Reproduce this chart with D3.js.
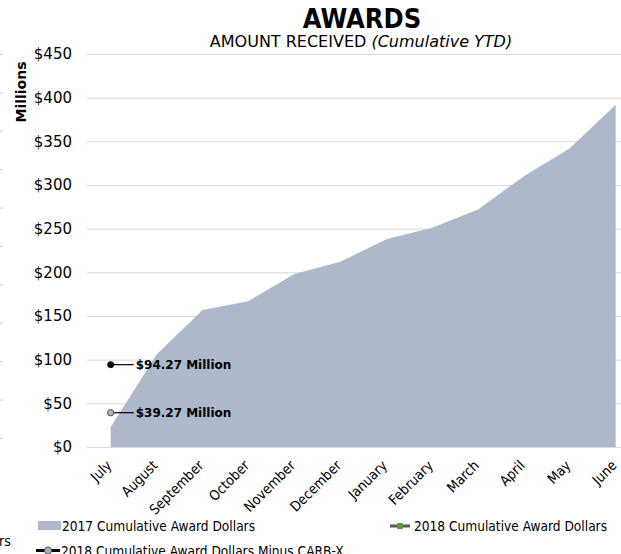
<!DOCTYPE html>
<html>
<head>
<meta charset="utf-8">
<script src="https://cdn.jsdelivr.net/npm/d3@7"></script>
<style>
  html, body { margin: 0; padding: 0; background: #fff; }
  svg { display: block; }
  text { font-family: "DejaVu Sans", Verdana, sans-serif; fill: #000; }
  .narrow { font-family: "DejaVu Sans Condensed", "DejaVu Sans", sans-serif; font-stretch: condensed; }
</style>
</head>
<body>
<svg id="chart" width="621" height="554"></svg>
<script>
// Fiscal-year months, July through June
const months = ["July", "August", "September", "October", "November", "December",
                "January", "February", "March", "April", "May", "June"];

// 2017 cumulative award dollars, millions
const award2017 = [23, 106, 157, 167, 198, 212, 238, 251, 272, 310, 342, 392];

// 2018 cumulative award dollars (only July reported so far), millions
const award2018 = [94.27];
const award2018MinusCarbx = [39.27];

// Y axis ticks, millions
const yTicks = [0, 50, 100, 150, 200, 250, 300, 350, 400, 450];

const legendItems = ["2017 Cumulative Award Dollars",
                     "2018 Cumulative Award Dollars",
                     "2018 Cumulative Award Dollars Minus CARB-X"];

const svg = d3.select("#chart");
const W = 621, H = 554;
const plot = { left: 87, right: 621, top: 54, bottom: 447 };

svg.append("rect").attr("width", W).attr("height", H).attr("fill", "#fff");

// Edge of the neighbouring panel
const edge = svg.append("g").attr("class", "edge");
edge.selectAll("line").data(d3.range(11)).join("line")
  .attr("x1", 0).attr("x2", 2.5)
  .attr("y1", d => 54.5 + d * 38.4).attr("y2", d => 54.5 + d * 38.4)
  .attr("stroke", "#c8c8c8").attr("stroke-width", 1);
edge.append("text").attr("x", -1).attr("y", 546)
  .attr("class", "narrow")
  .style("font-size", "14px").text("rs");

const x = d3.scalePoint().domain(months).range([110.7, 615.7]);
const y = d3.scaleLinear().domain([0, 450]).range([plot.bottom, plot.top]);

// Gridlines and dollar labels
const yAxis = d3.axisLeft(y)
  .tickValues(yTicks)
  .tickSize(-(plot.right - plot.left))
  .tickPadding(15)
  .tickFormat(d => "$" + d);

const gy = svg.append("g")
  .attr("transform", `translate(${plot.left},0)`)
  .call(yAxis);
gy.select(".domain").remove();
gy.selectAll(".tick line").attr("stroke", "#d9d9d9").attr("stroke-width", 1);
gy.selectAll(".tick text")
  .style("font-size", "15px")
  .style("font-family", "'DejaVu Sans', Verdana, sans-serif")
  .attr("fill", "#000");

// 2017 area
const area = d3.area()
  .x((d, i) => x(months[i]))
  .y0(y(0))
  .y1(d => y(d));
svg.append("path")
  .datum(award2017)
  .attr("d", area)
  .attr("fill", "#adb8cb");

// Month labels, rotated
const xAxis = d3.axisBottom(x).tickSize(0).tickPadding(0);
const gx = svg.append("g")
  .attr("transform", `translate(0,${plot.bottom})`)
  .call(xAxis);
gx.select(".domain").remove();
gx.selectAll(".tick text")
  .attr("y", 0).attr("dy", 0)
  .attr("class", "narrow")
  .attr("text-anchor", "end")
  .attr("dominant-baseline", "hanging")
  .attr("transform", "translate(-6,12) rotate(-45)")
  .style("font-size", "14px")
  .style("font-family", null)
  .attr("fill", "#000");

// 2018 points with value labels
function pointLabel(value, fill, stroke, r) {
  const cx = x(months[0]), cy = y(value);
  svg.append("line")
    .attr("x1", cx).attr("x2", cx + 23)
    .attr("y1", cy).attr("y2", cy)
    .attr("stroke", "#000").attr("stroke-width", 1.2);
  svg.append("circle")
    .attr("cx", cx).attr("cy", cy).attr("r", r)
    .attr("fill", fill).attr("stroke", stroke).attr("stroke-width", 1);
  svg.append("text")
    .attr("x", cx + 25).attr("y", cy + 4.5)
    .style("font-size", "12px").style("font-weight", "bold")
    .text("$" + value.toFixed(2) + " Million");
}
pointLabel(award2018[0], "#000", "#000", 3);
pointLabel(award2018MinusCarbx[0], "#a9b3c6", "#4a5468", 3.2);

// Titles
svg.append("text")
  .attr("x", 362).attr("y", 28)
  .attr("class", "narrow")
  .attr("text-anchor", "middle")
  .style("font-size", "27px").style("font-weight", "bold")
  .text("AWARDS");

const sub = svg.append("text")
  .attr("x", 361).attr("y", 47)
  .attr("text-anchor", "middle")
  .style("font-size", "16px");
sub.append("tspan").text("AMOUNT RECEIVED ");
sub.append("tspan").style("font-style", "italic").text("(Cumulative YTD)");

svg.append("text")
  .attr("transform", "translate(26,92) rotate(-90)")
  .attr("text-anchor", "middle")
  .style("font-size", "14px").style("font-weight", "bold")
  .text("Millions");

// Legend
const lg = svg.append("g").attr("class", "narrow").style("font-size", "13.6px");
lg.append("rect").attr("x", 38).attr("y", 521).attr("width", 23).attr("height", 9)
  .attr("fill", "#adb8cb");
lg.append("text").attr("x", 62).attr("y", 531).text(legendItems[0]);

lg.append("line").attr("x1", 390).attr("x2", 410).attr("y1", 526).attr("y2", 526)
  .attr("stroke", "#595959").attr("stroke-width", 3);
lg.append("rect").attr("x", 397).attr("y", 523).attr("width", 6).attr("height", 6)
  .attr("fill", "#5b9a3c");
lg.append("text").attr("x", 414).attr("y", 531).text(legendItems[1]);

lg.append("line").attr("x1", 36).attr("x2", 60).attr("y1", 550.5).attr("y2", 550.5)
  .attr("stroke", "#000").attr("stroke-width", 3);
lg.append("circle").attr("cx", 48).attr("cy", 550.5).attr("r", 3.5)
  .attr("fill", "#a9b3c6").attr("stroke", "#4a5468").attr("stroke-width", 1);
lg.append("text").attr("x", 61).attr("y", 555.5).text(legendItems[2]);
</script>
</body>
</html>
